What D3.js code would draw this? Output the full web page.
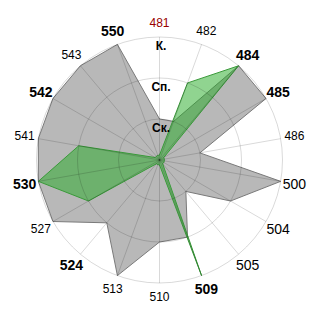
<!DOCTYPE html>
<html>
<head>
<meta charset="utf-8">
<script src="https://cdn.jsdelivr.net/npm/d3@7"></script>
<style>
body {margin: 0; background: #fff;}
svg {display: block; font-family: "Liberation Sans", Arial, sans-serif;}
</style>
</head>
<body>
<div class="radardiv"></div>
<script>

var categories = ["481", "482", "484", "485", "486", "500", "504", "505", "509",
                  "510", "513", "524", "527", "530", "541", "542", "543", "550"];
var grayValues = [1, 1, 3, 3, 1, 3, 2, 1, 2, 2, 3, 2, 3, 3, 3, 3, 3, 3];
var greenValues = [0.12, 2, 3, 0.12, 0.12, 0.12, 0.12, 0.12, 3,
                   0.12, 0.12, 0.12, 2, 3, 2, 0.12, 0.12, 0.12];
var levels = [1, 2, 3];
var levelLabels = ["Ск.", "Сп.", "К."];

// how each category label is drawn
var boldLabels = ["484", "485", "509", "524", "530", "542", "550"];
var largeLabels = ["500", "504", "505"];
var redLabels = ["481"];

var width = 320, height = 320;
var cx = 159.5, cy = 160, radius = 123;

var angle = d3.scaleBand().domain(categories).range([0, 2 * Math.PI]).padding(0).align(0);
var r = d3.scaleLinear().domain([0, 3]).range([0, radius]);

var svg = d3.select(".radardiv")
    .append("svg")
    .attr("width", width)
    .attr("height", height)
  .append("g")
    .attr("transform", "translate(" + cx + "," + cy + ")");

var line = d3.lineRadial()
    .angle(function(d) { return angle(d.cat); })
    .radius(function(d) { return r(d.v); })
    .curve(d3.curveLinearClosed);

function series(values) {
  return categories.map(function(c, i) { return {cat: c, v: values[i]}; });
}

svg.append("path")
    .datum(series(grayValues))
    .attr("d", line)
    .attr("fill", "#b8b8b8")
    .attr("stroke", "#7a7a7a")
    .attr("stroke-width", 1);

svg.append("path")
    .datum(series(greenValues))
    .attr("d", line)
    .attr("fill", "#22aa22")
    .attr("fill-opacity", 0.5)
    .attr("stroke", "#3a9a3a")
    .attr("stroke-width", 1);

// grid on top
var grid = svg.append("g").attr("stroke", "rgba(0,0,0,0.15)").attr("fill", "none");
grid.selectAll("circle")
    .data(levels)
  .enter().append("circle")
    .attr("r", function(d) { return r(d); });
grid.selectAll("line")
    .data(categories)
  .enter().append("line")
    .attr("x1", 0).attr("y1", 0)
    .attr("x2", function(d) { return Math.sin(angle(d)) * r(3); })
    .attr("y2", function(d) { return -Math.cos(angle(d)) * r(3); });

svg.selectAll(".level")
    .data(levels)
  .enter().append("text")
    .attr("x", 1.5)
    .attr("y", function(d) { return -r(d) + 9; })
    .attr("text-anchor", "middle")
    .attr("dominant-baseline", "central")
    .style("font-size", "12px")
    .style("font-weight", "bold")
    .text(function(d, i) { return levelLabels[i]; });

svg.selectAll(".cat")
    .data(categories)
  .enter().append("text")
    .attr("x", function(d) { return Math.sin(angle(d)) * (r(3) + 14); })
    .attr("y", function(d) { return -Math.cos(angle(d)) * (r(3) + 14); })
    .attr("text-anchor", "middle")
    .attr("dominant-baseline", "central")
    .style("font-size", function(d) {
      return (boldLabels.indexOf(d) >= 0 || largeLabels.indexOf(d) >= 0) ? "14px" : "12px";
    })
    .style("font-weight", function(d) { return boldLabels.indexOf(d) >= 0 ? "bold" : "normal"; })
    .style("fill", function(d) { return redLabels.indexOf(d) >= 0 ? "#990000" : "#000"; })
    .text(function(d) { return d; });

</script>
</body>
</html>
